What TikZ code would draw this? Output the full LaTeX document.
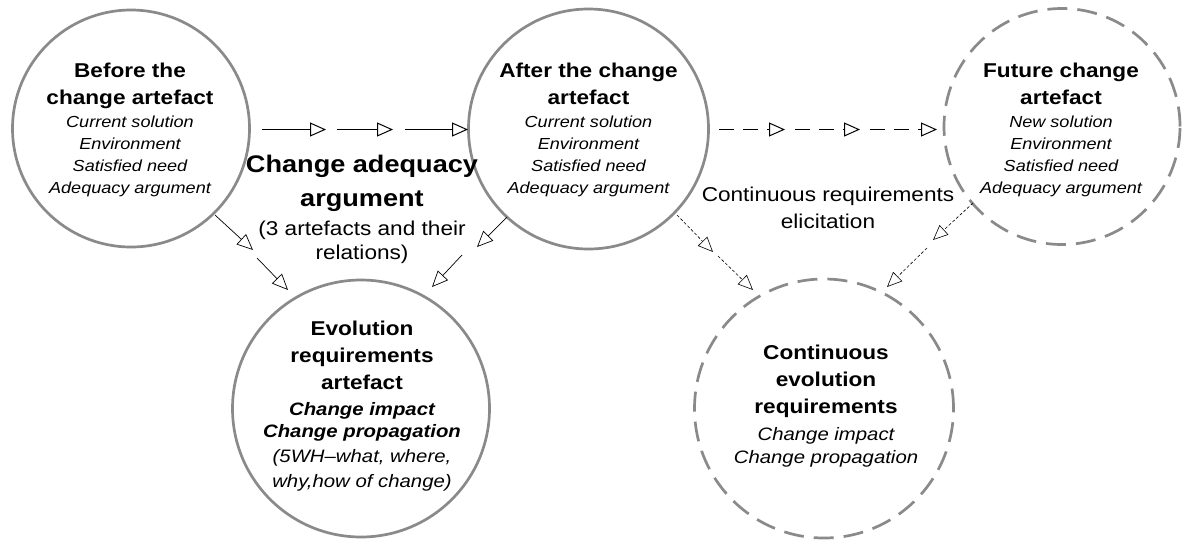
\documentclass[tikz,border=0pt]{standalone}
\usepackage{fontspec}
\setmainfont{Liberation Sans}
\usetikzlibrary{arrows.meta}
\definecolor{ringgray}{RGB}{138,138,138}
\newcommand\ttlf{\fontsize{20}{27}\selectfont\bfseries\upshape}
\newcommand\itlf{\fontsize{16}{22}\selectfont\mdseries\itshape}
\newcommand\sx[1]{\scalebox{1.13}[1]{\parbox{250pt}{\centering #1}}}
\begin{document}
\begin{tikzpicture}[x=1pt,y=-1pt,
  ring/.style={circle,draw=ringgray,line width=2.7pt,inner sep=0pt,minimum size=#1},
  dring/.style={ring=#1,dash pattern=on 20pt off 10pt},
  txt/.style={inner sep=0pt,anchor=center},
  arr/.style={-{Triangle[open,length=16pt,width=14pt]},line width=1pt,black},
  darr/.style={arr,dash pattern=on 15pt off 9pt},
  farr/.style={-{Triangle[open,length=15pt,width=13pt]},line width=0.6pt,black,dash pattern=on 3pt off 2pt}]
\fill[white] (0,0) rectangle (1185,539);
\useasboundingbox (0,0) rectangle (1185,539);

% circles
\node[ring=237pt] (A) at (131,128.5) {};
\node[ring=240pt] (B) at (588.5,129) {};
\node[dring=236pt] (C) at (1062,126.5) {};
\node[ring=257pt] (D) at (361,408.5) {};
\node[dring=259pt] (E) at (824,408.5) {};

% circle texts
\node[txt] (At) at (130,130) {\sx{{\ttlf Before the\par change artefact\par}\vskip1pt{\itlf Current solution\par Environment\par Satisfied need\par Adequacy argument\par}}};
\node[txt] (Bt) at (588.5,130) {\sx{{\ttlf After the change\par artefact\par}\vskip1pt{\itlf Current solution\par Environment\par Satisfied need\par Adequacy argument\par}}};
\node[txt] (Ct) at (1061,130) {\sx{{\ttlf Future change\par artefact\par}\vskip1pt{\itlf New solution\par Environment\par Satisfied need\par Adequacy argument\par}}};
\node[txt] (Dt) at (362,406.6) {\sx{{\ttlf Evolution\par requirements\par artefact\par}\vskip4pt{\fontsize{18}{22}\selectfont\bfseries\itshape Change impact\par Change propagation\par}{\fontsize{18}{25}\selectfont\mdseries\itshape (5WH--what, where,\par why,how of change)\par}}};
\node[txt] (Et) at (826,406) {\sx{{\ttlf Continuous\par evolution\par requirements\par}\vskip4pt{\fontsize{18}{23}\selectfont\mdseries\itshape Change impact\par Change propagation\par}}};

% free labels
\node[txt] (CAA) at (362,209.7) {\sx{{\fontsize{24}{34}\selectfont\bfseries Change adequacy\par argument\par}\vskip5pt{\fontsize{20}{24}\selectfont (3 artefacts and their\par relations)\par}}};
\node[txt] (CRE) at (828,208.2) {\sx{\fontsize{20}{27}\selectfont Continuous requirements\par elicitation\par}};

% connector points
\coordinate (ab1) at (262,129.5); \coordinate (ab2) at (326,129.5);
\coordinate (ab3) at (337,129.5); \coordinate (ab4) at (393,129.5);
\coordinate (ab5) at (405,129.5); \coordinate (ab6) at (468,129.5);
\coordinate (bc1) at (719,129.5); \coordinate (bc2) at (785,129.5);
\coordinate (bc3) at (795,129.5); \coordinate (bc4) at (860,129.5);
\coordinate (bc5) at (870,129.5); \coordinate (bc6) at (937,129.5);
\coordinate (ad1) at (215,215); \coordinate (ad2) at (253,250);
\coordinate (ad3) at (257,258); \coordinate (ad4) at (288,290);
\coordinate (bd1) at (507,217); \coordinate (bd2) at (477,247);
\coordinate (bd3) at (462,255); \coordinate (bd4) at (432,287);
\coordinate (be1) at (677,215); \coordinate (be2) at (713,252);
\coordinate (be3) at (718,256); \coordinate (be4) at (753,290);
\coordinate (ce1) at (973,203); \coordinate (ce2) at (933,240);
\coordinate (ce3) at (927,248); \coordinate (ce4) at (887,287);

% connectors
\draw[arr] (ab1) -- (ab2);
\draw[arr] (ab3) -- (ab4);
\draw[arr] (ab5) -- (ab6);
\draw[darr] (bc1) -- (bc2);
\draw[darr] (bc3) -- (bc4);
\draw[darr] (bc5) -- (bc6);
\draw[arr,line width=0.7pt] (ad1) -- (ad2);
\draw[arr,line width=0.7pt] (ad3) -- (ad4);
\draw[arr,line width=0.7pt] (bd1) -- (bd2);
\draw[arr,line width=0.7pt] (bd3) -- (bd4);
\draw[farr] (be1) -- (be2);
\draw[farr] (be3) -- (be4);
\draw[farr] (ce1) -- (ce2);
\draw[farr] (ce3) -- (ce4);
\end{tikzpicture}
\end{document}
